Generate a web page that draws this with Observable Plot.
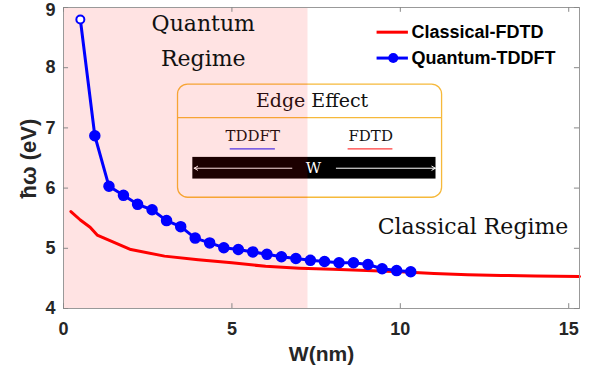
<!DOCTYPE html>
<html><head><meta charset="utf-8">
<script src="https://cdn.jsdelivr.net/npm/d3@7"></script>
<script src="https://cdn.jsdelivr.net/npm/@observablehq/plot@0.6"></script>
<style>body{margin:0;background:#fff}</style>
</head><body><div id="chart"></div>
<script>
// Quantum-TDDFT (blue, markers)
const tddftW = [0.50, 0.93, 1.35, 1.78, 2.20, 2.63, 3.06, 3.48, 3.91, 4.34, 4.76, 5.19, 5.62, 6.04, 6.47, 6.90, 7.33, 7.75, 8.18, 8.61, 9.04, 9.46, 9.89, 10.31];
const tddftE = [8.80, 6.87, 6.03, 5.88, 5.73, 5.64, 5.46, 5.36, 5.17, 5.09, 5.01, 4.98, 4.94, 4.90, 4.86, 4.83, 4.80, 4.78, 4.76, 4.76, 4.73, 4.66, 4.63, 4.61];
// Classical-FDTD (red line)
const fdtdW = [0.22, 0.50, 0.79, 1.00, 1.50, 2.00, 3.00, 4.00, 5.00, 6.00, 7.00, 8.00, 9.00, 10.00, 11.00, 12.00, 13.00, 14.00, 15.32];
const fdtdE = [5.61, 5.47, 5.35, 5.22, 5.10, 4.98, 4.87, 4.81, 4.76, 4.70, 4.67, 4.65, 4.63, 4.61, 4.58, 4.56, 4.55, 4.54, 4.53];
const xTicks = [0, 5, 10, 15];
const yTicks = [4, 5, 6, 7, 8];
const yTopTick = [9];
const seriesNames = ["Classical-FDTD", "Quantum-TDDFT"];
const quantumLimit = 7.26;

const tddft = tddftW.map((w, i) => ({w, e: tddftE[i]}));
const fdtd = fdtdW.map((w, i) => ({w, e: fdtdE[i]}));
const serif = "'DejaVu Serif', serif";
const tickCol = "#888";
const allY = yTicks.concat(yTopTick);

const plot = Plot.plot({
  width: 597, height: 377,
  marginLeft: 63, marginRight: 18, marginTop: 7, marginBottom: 69,
  style: {fontFamily: "'Liberation Sans', Arial, sans-serif", background: "#fff"},
  x: {domain: [0, 15.32]},
  y: {domain: [4, 9]},
  marks: [
    // inset annotation box
    Plot.rect([0], {x1: 3.40, x2: 11.24, y1: 5.84, y2: 7.72, fill: "none", stroke: "#f6b93b", strokeWidth: 1.3, rx: 10}),
    Plot.ruleY([7.17], {x1: 3.40, x2: 11.24, stroke: "#f6b93b", strokeWidth: 1.3}),
    Plot.text(["Edge Effect"], {x: 7.38, y: 7.45, fontFamily: serif, fontSize: 19, fill: "#111"}),
    Plot.text(["TDDFT"], {x: 5.62, y: 6.86, fontFamily: serif, fontSize: 15, fill: "#111"}),
    Plot.ruleY([6.65], {x1: 4.95, x2: 6.29, stroke: "#3b3bff", strokeWidth: 1.3}),
    Plot.text(["FDTD"], {x: 9.12, y: 6.86, fontFamily: serif, fontSize: 15, fill: "#111"}),
    Plot.ruleY([6.65], {x1: 8.45, x2: 9.78, stroke: "#ff3b3b", strokeWidth: 1.3}),
    Plot.rect([0], {x1: 3.84, x2: 11.06, y1: 6.15, y2: 6.51, fill: "#000"}),
    Plot.arrow([0], {x1: 6.78, x2: 3.88, y1: 6.33, y2: 6.33, stroke: "#fff", strokeWidth: 1, headLength: 6, bend: 0}),
    Plot.arrow([0], {x1: 8.10, x2: 11.04, y1: 6.33, y2: 6.33, stroke: "#fff", strokeWidth: 1, headLength: 6, bend: 0}),
    Plot.text(["W"], {x: 7.42, y: 6.33, fontFamily: serif, fontSize: 15, fill: "#fff"}),
    // quantum regime shading
    Plot.rect([0], {x1: 0, x2: quantumLimit, y1: 4, y2: 9, fill: "#ff0000", fillOpacity: 0.11}),
    // regime labels
    Plot.text(["Quantum", "Regime"], {x: [4.15, 4.15], y: [8.73, 8.15], fontFamily: serif, fontSize: 22, fill: "#111"}),
    Plot.text(["Classical Regime"], {x: 14.99, y: 5.35, textAnchor: "end", fontFamily: serif, fontSize: 22, fill: "#111"}),
    // data
    Plot.line(fdtd, {x: "w", y: "e", stroke: "#ff0000", strokeWidth: 3}),
    Plot.line(tddft, {x: "w", y: "e", stroke: "#0000ff", strokeWidth: 3}),
    Plot.dot(tddft.slice(1), {x: "w", y: "e", r: 5, fill: "#0000ff", stroke: "#0000ff"}),
    Plot.dot(tddft.slice(0, 1), {x: "w", y: "e", r: 4, fill: "#fff", stroke: "#0000ff", strokeWidth: 2}),
    // legend
    Plot.ruleY([8.59], {x1: 9.31, x2: 10.24, stroke: "#ff0000", strokeWidth: 3}),
    Plot.ruleY([8.16], {x1: 9.31, x2: 10.24, stroke: "#0000ff", strokeWidth: 3}),
    Plot.dot([0], {x: 9.79, y: 8.16, r: 5, fill: "#0000ff"}),
    Plot.text(seriesNames, {x: [10.33, 10.33], y: [8.59, 8.16], textAnchor: "start", fontWeight: "bold", fontSize: 18, fill: "#000"}),
    // frame & inward ticks
    Plot.frame({stroke: "#999"}),
    Plot.ruleX(xTicks, {y1: 4, y2: 4.08, stroke: tickCol}),
    Plot.ruleX(xTicks, {y1: 9, y2: 8.92, stroke: tickCol}),
    Plot.ruleY(allY, {x1: 0, x2: 0.15, stroke: tickCol}),
    Plot.ruleY(allY, {x1: 15.32, x2: 15.17, stroke: tickCol}),
    Plot.axisX(xTicks, {tickSize: 0, tickPadding: 14, fontSize: 18, fontWeight: "bold", label: null, tickFormat: d => d, color: "#262626"}),
    Plot.axisY(yTicks, {tickSize: 0, tickPadding: 8, fontSize: 18, fontWeight: "bold", label: null, tickFormat: d => d, color: "#262626"}),
    Plot.axisY(yTopTick, {tickSize: 0, tickPadding: 8, dy: 3, fontSize: 18, fontWeight: "bold", label: null, tickFormat: d => d, color: "#262626"}),
    Plot.text(["W(nm)"], {frameAnchor: "bottom", dy: 52, fontSize: 21, fontWeight: "bold", fill: "#262626"}),
    Plot.text(["ħω (eV)"], {x: -1.02, y: 6.49, rotate: -90, fontSize: 22, fontWeight: "bold", fill: "#262626"})
  ]
});
document.getElementById("chart").appendChild(plot);
</script>
</body></html>
